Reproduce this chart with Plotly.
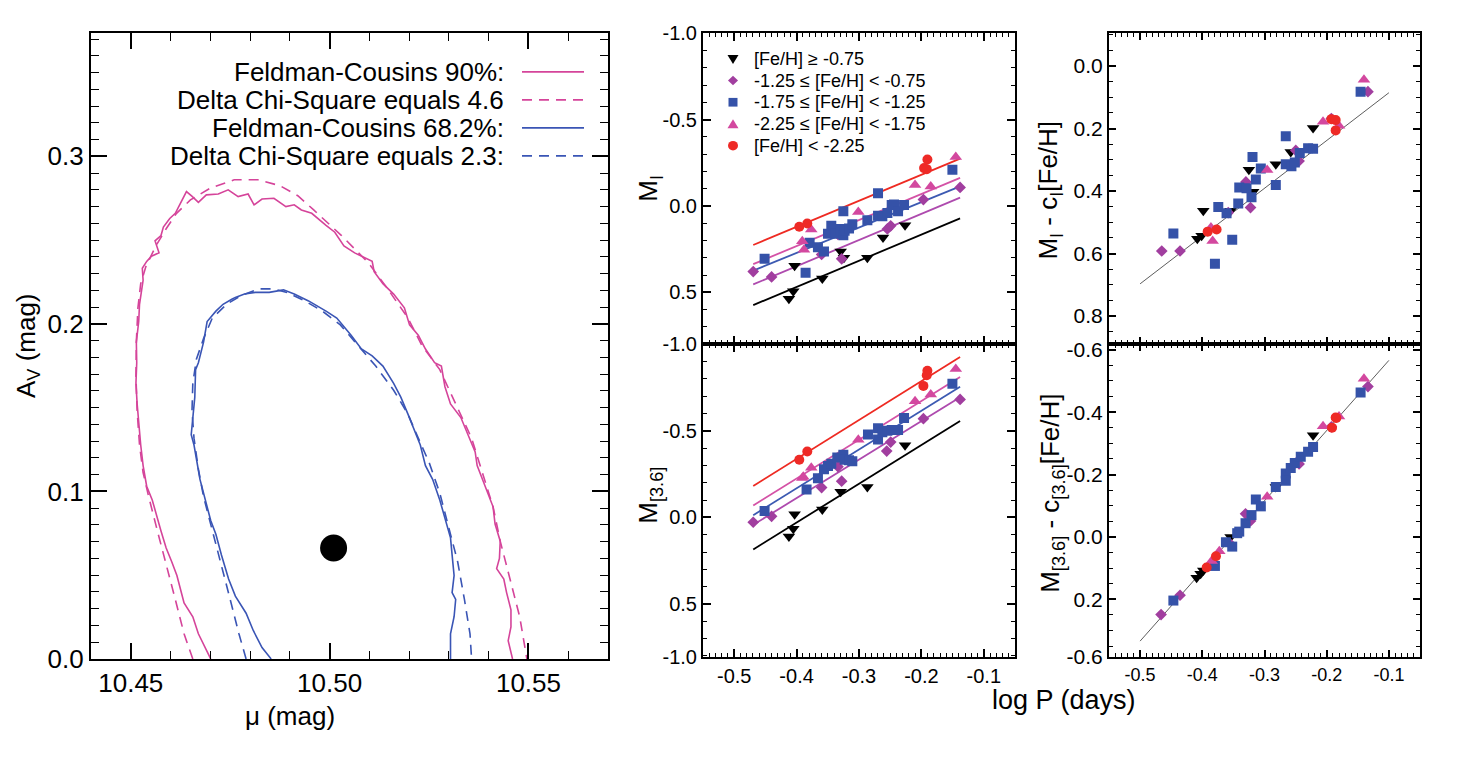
import plotly.graph_objects as go

W, H = 1458, 757
def px(x): return x / W
def py(y): return 1 - y / H

# ---------------- LEFT PANEL DATA (mu, A_V) ----------------
fc90_mu = [10.4701,10.4683,10.4670,10.4656,10.4634,10.4625,10.4616,10.4603,10.4589,10.4576,10.4563,10.4554,
           10.4540,10.4531,10.4525,10.4520,10.4516,10.4513,10.4515,10.4514,10.4520,10.4522,10.4531,10.4529,
           10.4540,10.4552,10.4571,10.4561,10.4576,10.4582,10.4598,10.4612,10.4625,10.4640,10.4655,10.4670,
           10.4690,10.4720,10.4745,10.4770,10.4795,10.4810,10.4830,10.4860,10.4890,10.4911,10.4929,10.4955,
           10.4991,10.5013,10.5036,10.5063,10.5107,10.5112,10.5134,10.5161,10.5188,10.5201,10.5223,10.5241,
           10.5264,10.5281,10.5290,10.5304,10.5330,10.5348,10.5366,10.5371,10.5384,10.5397,10.5411,10.5416,
           10.5429,10.5427,10.5420,10.5438,10.5445,10.5456,10.5456,10.5449,10.5460]
fc90_av = [0.0000,0.0088,0.0150,0.0252,0.0334,0.0416,0.0498,0.0580,0.0662,0.0764,0.0867,0.0949,
           0.1031,0.1154,0.1277,0.1400,0.1523,0.1645,0.1768,0.1891,0.2014,0.2117,0.2260,0.2332,
           0.2373,0.2404,0.2424,0.2496,0.2527,0.2578,0.2629,0.2660,0.2720,0.2790,0.2760,0.2725,
           0.2770,0.2775,0.2800,0.2760,0.2775,0.2710,0.2745,0.2750,0.2700,0.2711,0.2680,0.2660,
           0.2588,0.2547,0.2465,0.2424,0.2373,0.2311,0.2240,0.2178,0.2096,0.1994,0.1932,0.1850,
           0.1768,0.1748,0.1625,0.1522,0.1441,0.1338,0.1236,0.1154,0.1072,0.0990,0.0908,0.0805,
           0.0703,0.0600,0.0539,0.0477,0.0396,0.0293,0.0191,0.0109,0.0000]

chi46_mu = [10.4656,10.4634,10.4612,10.4589,10.4567,10.4545,10.4531,10.4522,10.4516,10.4513,10.4514,10.4518,
            10.4525,10.4538,10.4563,10.4589,10.4615,10.4650,10.4700,10.4760,10.4820,10.4875,10.4920,10.4960,
            10.5000,10.5030,10.5098,10.5143,10.5197,10.5232,10.5277,10.5322,10.5357,10.5384,10.5411,10.5429,
            10.5456,10.5478,10.5496]
chi46_av = [0.0000,0.0150,0.0355,0.0559,0.0764,0.0969,0.1113,0.1277,0.1482,0.1686,0.1891,0.2096,
            0.2240,0.2342,0.2465,0.2568,0.2660,0.2740,0.2810,0.2860,0.2860,0.2825,0.2765,0.2680,
            0.2590,0.2527,0.2363,0.2219,0.2035,0.1871,0.1727,0.1502,0.1318,0.1113,0.0908,0.0703,
            0.0457,0.0252,0.0000]

fc68_mu = [10.4853,10.4830,10.4808,10.4790,10.4763,10.4746,10.4728,10.4714,10.4701,10.4688,10.4674,10.4665,
           10.4659,10.4652,10.4656,10.4661,10.4663,10.4670,10.4683,10.4692,10.4714,10.4732,10.4754,10.4763,
           10.4786,10.4813,10.4848,10.4884,10.4911,10.4947,10.4991,10.5018,10.5054,10.5080,10.5107,10.5134,
           10.5161,10.5179,10.5197,10.5214,10.5228,10.5241,10.5259,10.5277,10.5290,10.5304,10.5308,10.5313,
           10.5308,10.5317,10.5313,10.5304,10.5304]
fc68_av = [0.0000,0.0068,0.0170,0.0273,0.0375,0.0477,0.0621,0.0744,0.0826,0.0949,0.1072,0.1195,
           0.1277,0.1338,0.1441,0.1563,0.1727,0.1768,0.1891,0.2014,0.2076,0.2117,0.2147,0.2158,
           0.2178,0.2188,0.2188,0.2203,0.2178,0.2137,0.2076,0.2035,0.1932,0.1850,0.1809,0.1748,
           0.1645,0.1563,0.1461,0.1359,0.1277,0.1154,0.1072,0.0949,0.0846,0.0723,0.0621,0.0498,
           0.0396,0.0355,0.0252,0.0150,0.0000]

chi23_mu = [10.4790,10.4772,10.4750,10.4728,10.4705,10.4683,10.4670,10.4659,10.4654,10.4656,10.4665,10.4683,
            10.4705,10.4741,10.4777,10.4821,10.4857,10.4893,10.4938,10.4982,10.5027,10.5072,10.5116,10.5161,
            10.5197,10.5223,10.5250,10.5277,10.5299,10.5322,10.5339,10.5353,10.5357]
chi23_av = [0.0000,0.0150,0.0355,0.0559,0.0764,0.0969,0.1133,0.1318,0.1482,0.1645,0.1789,0.1912,
            0.2035,0.2117,0.2168,0.2209,0.2209,0.2188,0.2137,0.2076,0.1994,0.1871,0.1748,0.1604,
            0.1461,0.1318,0.1174,0.0990,0.0785,0.0580,0.0355,0.0150,0.0000]

best_mu = [10.5010]
best_av = [0.0662]

legend_left_labels = ["Feldman-Cousins 90%:", "Delta Chi-Square equals 4.6",
                      "Feldman-Cousins 68.2%:", "Delta Chi-Square equals 2.3:"]

# ---------------- PL DATA ----------------
group_names = ["[Fe/H] ≥ -0.75", "-1.25 ≤ [Fe/H] &lt; -0.75", "-1.75 ≤ [Fe/H] &lt; -1.25",
               "-2.25 ≤ [Fe/H] &lt; -1.75", "[Fe/H] &lt; -2.25"]

# Panel: M_I vs log P
mi_x_k = [-0.4032,-0.4123,-0.4053,-0.3588,-0.3294,-0.3241,-0.2866,-0.2615,-0.2262]
mi_y_k = [0.346,0.537,0.494,0.420,0.263,0.300,0.300,0.183,0.111]
mi_x_d = [-0.4695,-0.4401,-0.3599,-0.3337,-0.3278,-0.2545,-0.2492,-0.1968,-0.1380]
mi_y_d = [0.380,0.411,0.281,0.165,0.306,0.133,0.115,-0.037,-0.107]
mi_x_s = [-0.4513,-0.3856,-0.3791,-0.3658,-0.3561,-0.3497,-0.3444,-0.3374,-0.3294,-0.3251,-0.3251,-0.3230,
          -0.3160,-0.3107,-0.2866,-0.2695,-0.2695,-0.2626,-0.2545,-0.2476,-0.2439,-0.2374,-0.2278,-0.1503]
mi_y_s = [0.306,0.387,0.213,0.239,0.263,0.161,0.115,0.161,0.133,0.031,0.170,0.143,
          0.130,0.106,0.083,-0.074,0.056,0.059,0.041,-0.006,-0.009,0.031,-0.006,-0.209]
mi_x_t = [-0.3909,-0.3882,-0.3765,-0.3011,-0.2102,-0.1850,-0.1449]
mi_y_t = [0.204,0.254,0.137,0.035,-0.122,-0.113,-0.283]
mi_x_c = [-0.3957,-0.3829,-0.1957,-0.1904,-0.1914]
mi_y_c = [0.120,0.102,-0.219,-0.269,-0.213]

# Panel: M_[3.6] vs log P
m36_x_k = [-0.4032,-0.4053,-0.4123,-0.3588,-0.3294,-0.2866,-0.2262]
m36_y_k = [-0.0185,0.065,0.111,-0.046,-0.148,-0.176,-0.417]
m36_x_d = [-0.4695,-0.4401,-0.3599,-0.3337,-0.3278,-0.2556,-0.2492,-0.1968,-0.1380]
m36_y_d = [0.028,-0.006,-0.172,-0.293,-0.209,-0.383,-0.435,-0.570,-0.681]
m36_x_s = [-0.4513,-0.3840,-0.3658,-0.3561,-0.3497,-0.3444,-0.3348,-0.3251,-0.3230,-0.3160,-0.3107,-0.2856,
           -0.2695,-0.2695,-0.2626,-0.2545,-0.2476,-0.2374,-0.2278,-0.1503]
m36_y_s = [-0.037,-0.161,-0.226,-0.278,-0.296,-0.309,-0.346,-0.361,-0.333,-0.330,-0.324,-0.478,
           -0.515,-0.450,-0.491,-0.500,-0.504,-0.504,-0.574,-0.772]
m36_x_t = [-0.3909,-0.3893,-0.3765,-0.3011,-0.2102,-0.1850,-0.1449]
m36_y_t = [-0.228,-0.235,-0.287,-0.448,-0.670,-0.709,-0.856]
m36_x_c = [-0.3957,-0.3829,-0.1968,-0.1904,-0.1914]
m36_y_c = [-0.333,-0.380,-0.759,-0.846,-0.820]

# Panel: M_I - c_I[Fe/H] vs log P
mic_x_k = [-0.3984,-0.4080,-0.4011,-0.3545,-0.3251,-0.3182,-0.2818,-0.2578,-0.2219]
mic_y_k = [0.463,0.553,0.543,0.463,0.332,0.402,0.314,0.275,0.198]
mic_x_d = [-0.4652,-0.4358,-0.3583,-0.3299,-0.3225,-0.2497,-0.2444,-0.1925,-0.1337]
mic_y_d = [0.592,0.592,0.469,0.371,0.453,0.270,0.304,0.168,0.082]
mic_x_s = [-0.4465,-0.3797,-0.3743,-0.3610,-0.3519,-0.3422,-0.3406,-0.3289,-0.3209,-0.3193,-0.3139,-0.3059,
           -0.2818,-0.2658,-0.2658,-0.2567,-0.2513,-0.2433,-0.2299,-0.2219,-0.1455]
mic_y_s = [0.536,0.633,0.451,0.471,0.556,0.440,0.389,0.391,0.420,0.291,0.363,0.328,
           0.381,0.225,0.314,0.321,0.309,0.278,0.263,0.265,0.082]
mic_x_t = [-0.3861,-0.3834,-0.2957,-0.2059,-0.1802,-0.1401]
mic_y_t = [0.517,0.560,0.333,0.178,0.191,0.044]
mic_x_c = [-0.3914,-0.3770,-0.1925,-0.1856,-0.1856]
mic_y_c = [0.530,0.523,0.170,0.173,0.206]

# Panel: M_[3.6] - c_[3.6][Fe/H] vs log P
m36c_x_k = [-0.4091,-0.4027,-0.3984,-0.3545,-0.3251,-0.2818,-0.2219]
m36c_y_k = [0.131,0.118,0.108,0.000,-0.074,-0.160,-0.326]
m36c_x_d = [-0.4663,-0.4358,-0.3556,-0.3305,-0.3225,-0.2497,-0.2444,-0.1925,-0.1337]
m36c_y_d = [0.249,0.187,0.021,-0.074,-0.051,-0.237,-0.234,-0.353,-0.482]
m36c_x_s = [-0.4465,-0.3797,-0.3620,-0.3519,-0.3439,-0.3406,-0.3305,-0.3209,-0.3139,-0.3059,-0.2818,-0.2658,
            -0.2658,-0.2578,-0.2513,-0.2417,-0.2299,-0.2219,-0.1455]
m36c_y_s = [0.204,0.093,0.017,0.031,-0.012,-0.017,-0.044,-0.070,-0.120,-0.098,-0.160,-0.203,
            -0.180,-0.221,-0.237,-0.257,-0.273,-0.288,-0.463]
m36c_x_t = [-0.3850,-0.3727,-0.2957,-0.2059,-0.1802,-0.1401]
m36c_y_t = [0.077,0.046,-0.129,-0.355,-0.386,-0.507]
m36c_x_c = [-0.3930,-0.3780,-0.1914,-0.1856,-0.1845]
m36c_y_c = [0.098,0.062,-0.350,-0.383,-0.381]

# Fit lines (end points)
fit_x = [-0.4695, -0.138]
mi_fit = {"k": [0.574, 0.072], "d": [0.454, -0.048], "s": [0.374, -0.113], "t": [0.337, -0.163], "c": [0.226, -0.274]}
m36_fit = {"k": [0.185, -0.556], "d": [0.043, -0.694], "s": [-0.013, -0.754], "t": [-0.069, -0.811], "c": [-0.181, -0.926]}
corr_fit_x = [-0.5, -0.1]
mic_fit = [0.697, 0.0855]
m36c_fit = [0.334, -0.566]

# tick labels
mu_tickvals = [10.45, 10.50, 10.55]; mu_ticktext = ["10.45", "10.50", "10.55"]
av_tickvals = [0.0, 0.1, 0.2, 0.3]; av_ticktext = ["0.0", "0.1", "0.2", "0.3"]
logp_tickvals = [-0.5, -0.4, -0.3, -0.2, -0.1]; logp_ticktext = ["-0.5", "-0.4", "-0.3", "-0.2", "-0.1"]
mi_tickvals = [-1.0, -0.5, 0.0, 0.5]; mi_ticktext = ["-1.0", "-0.5", "0.0", "0.5"]
m36_tickvals = [-1.0, -0.5, 0.0, 0.5, 0.805]; m36_ticktext = ["-1.0", "-0.5", "0.0", "0.5", "-1.0"]
mic_tickvals = [0.0, 0.2, 0.4, 0.6, 0.8]; mic_ticktext = ["0.0", "0.2", "0.4", "0.6", "0.8"]
m36c_tickvals = [-0.6, -0.4, -0.2, 0.0, 0.2, 0.384]; m36c_ticktext = ["-0.6", "-0.4", "-0.2", "0.0", "0.2", "-0.6"]

# ---------------- STYLE ----------------
FONT = "Liberation Sans, Arial, Helvetica, sans-serif"
C_MAG = "#D5449A"
C_BLU = "#3A55B5"
DASH = "10px,7px"
col = {"k": "#000000", "d": "#A13E9F", "s": "#3552A8", "t": "#D3489F", "c": "#EE2A26"}
linecol = {"k": "#000000", "d": "#AE4AAE", "s": "#3C5AB2", "t": "#D452A6", "c": "#EE2A22"}
sym = {"k": "triangle-down", "d": "diamond", "s": "square", "t": "triangle-up", "c": "circle"}
msz = {"k": 11, "d": 9, "s": 10, "t": 11, "c": 10}
keys = ["k", "d", "s", "t", "c"]

fig = go.Figure()

# left panel
fig.add_trace(go.Scatter(x=fc90_mu, y=fc90_av, mode="lines", line=dict(color=C_MAG, width=1.6), xaxis="x", yaxis="y", showlegend=False))
fig.add_trace(go.Scatter(x=chi46_mu, y=chi46_av, mode="lines", line=dict(color=C_MAG, width=1.6, dash=DASH), xaxis="x", yaxis="y", showlegend=False))
fig.add_trace(go.Scatter(x=fc68_mu, y=fc68_av, mode="lines", line=dict(color=C_BLU, width=1.6), xaxis="x", yaxis="y", showlegend=False))
fig.add_trace(go.Scatter(x=chi23_mu, y=chi23_av, mode="lines", line=dict(color=C_BLU, width=1.6, dash=DASH), xaxis="x", yaxis="y", showlegend=False))
fig.add_trace(go.Scatter(x=best_mu, y=best_av, mode="markers", marker=dict(color="black", size=27), xaxis="x", yaxis="y", showlegend=False))

panels = [
    ("x2", "y2", {"k": (mi_x_k, mi_y_k), "d": (mi_x_d, mi_y_d), "s": (mi_x_s, mi_y_s), "t": (mi_x_t, mi_y_t), "c": (mi_x_c, mi_y_c)}),
    ("x3", "y3", {"k": (m36_x_k, m36_y_k), "d": (m36_x_d, m36_y_d), "s": (m36_x_s, m36_y_s), "t": (m36_x_t, m36_y_t), "c": (m36_x_c, m36_y_c)}),
    ("x4", "y4", {"k": (mic_x_k, mic_y_k), "d": (mic_x_d, mic_y_d), "s": (mic_x_s, mic_y_s), "t": (mic_x_t, mic_y_t), "c": (mic_x_c, mic_y_c)}),
    ("x5", "y5", {"k": (m36c_x_k, m36c_y_k), "d": (m36c_x_d, m36c_y_d), "s": (m36c_x_s, m36c_y_s), "t": (m36c_x_t, m36c_y_t), "c": (m36c_x_c, m36c_y_c)}),
]

for k in keys:
    fig.add_trace(go.Scatter(x=fit_x, y=mi_fit[k], mode="lines", line=dict(color=linecol[k], width=1.8), xaxis="x2", yaxis="y2", showlegend=False))
    fig.add_trace(go.Scatter(x=fit_x, y=m36_fit[k], mode="lines", line=dict(color=linecol[k], width=1.8), xaxis="x3", yaxis="y3", showlegend=False))
fig.add_trace(go.Scatter(x=corr_fit_x, y=mic_fit, mode="lines", line=dict(color="#333333", width=0.8), xaxis="x4", yaxis="y4", showlegend=False))
fig.add_trace(go.Scatter(x=corr_fit_x, y=m36c_fit, mode="lines", line=dict(color="#333333", width=0.8), xaxis="x5", yaxis="y5", showlegend=False))

for xa, ya, data in panels:
    for i, k in enumerate(keys):
        xs, ys = data[k]
        fig.add_trace(go.Scatter(x=xs, y=ys, mode="markers", name=group_names[i],
                                 marker=dict(symbol=sym[k], color=col[k], size=msz[k], line=dict(width=0)),
                                 xaxis=xa, yaxis=ya, showlegend=False))

def axis(domain, rng, tickvals, ticktext, ticklen, minor_dtick, minor_len, tickfont, anchor, showlabels=True, lw=2):
    return dict(domain=domain, range=rng, anchor=anchor, tickmode="array", tickvals=tickvals, ticktext=ticktext,
                showticklabels=showlabels, ticks="inside", ticklen=ticklen, tickwidth=1.6, tickcolor="black",
                showline=True, linecolor="black", linewidth=lw, mirror="ticks", showgrid=False, zeroline=False,
                tickfont=dict(family=FONT, size=tickfont, color="black"),
                minor=dict(ticks="inside", ticklen=minor_len, tickwidth=1.2, tickcolor="black", dtick=minor_dtick,
                           tick0=0, showgrid=False))

dx_left = [px(91), px(608)]
dy_left = [py(671), py(23)]
dx_mid = [px(703), px(1015)]
dx_right = [px(1109), px(1420)]
dy_top = [py(345), py(23)]
dy_bot = [py(669), py(345)]

fig.update_layout(
    width=W, height=H, margin=dict(l=0, r=0, t=0, b=0),
    paper_bgcolor="white", plot_bgcolor="white",
    font=dict(family=FONT, color="black"),
    xaxis=axis(dx_left, [10.44, 10.57], mu_tickvals, mu_ticktext, 16, 0.01, 8, 26, "y", lw=2.2),
    yaxis=axis(dy_left, [0.0, 0.3735], av_tickvals, av_ticktext, 16, 0.01, 8, 26, "x", lw=2.2),
    xaxis2=axis(dx_mid, [-0.55, -0.05], logp_tickvals, logp_ticktext, 8, 0.01, 4, 20, "y2", showlabels=False),
    yaxis2=axis(dy_top, [0.8, -1.0], mi_tickvals, mi_ticktext, 8, 0.1, 4, 20, "x2"),
    xaxis3=axis(dx_mid, [-0.55, -0.05], logp_tickvals, logp_ticktext, 8, 0.01, 4, 20, "y3"),
    yaxis3=axis(dy_bot, [0.806, -1.0], m36_tickvals, m36_ticktext, 8, 0.1, 4, 20, "x3"),
    xaxis4=axis(dx_right, [-0.55, -0.05], logp_tickvals, logp_ticktext, 7, 0.01, 4, 18, "y4", showlabels=False),
    yaxis4=axis(dy_top, [0.89, -0.105], mic_tickvals, mic_ticktext, 7, 0.05, 4, 21, "x4"),
    xaxis5=axis(dx_right, [-0.55, -0.05], logp_tickvals, logp_ticktext, 7, 0.01, 4, 18, "y5"),
    yaxis5=axis(dy_bot, [0.385, -0.618], m36c_tickvals, m36c_ticktext, 7, 0.05, 4, 21, "x5"),
    showlegend=False,
)

ann = []
def A(text, x, y, size, angle=0, xanchor="center"):
    ann.append(dict(text=text, x=px(x), y=py(y), xref="paper", yref="paper", showarrow=False,
                    textangle=angle, xanchor=xanchor, yanchor="middle",
                    font=dict(family=FONT, size=size, color="black")))

A("A<sub>V</sub> (mag)", 27, 347, 26, -90)
A("μ (mag)", 290, 730, 26)
A("M<sub>I</sub>", 650, 184, 26, -90)
A("M<sub>[3.6]</sub>", 650, 502, 26, -90)
A("M<sub>I</sub> - c<sub>I</sub>[Fe/H]", 1050, 186, 26, -90)
A("M<sub>[3.6]</sub> - c<sub>[3.6]</sub>[Fe/H]", 1052, 500, 26, -90)
A("log P (days)", 1064, 714, 27)

shapes = []
# left legend: right-aligned text with line samples
rows_y = [63, 92, 121, 150]
styles = [(C_MAG, "solid"), (C_MAG, DASH), (C_BLU, "solid"), (C_BLU, DASH)]
for lab, yy, (c, d) in zip(legend_left_labels, rows_y, styles):
    A(lab, 506, yy, 26, 0, "right")
    shapes.append(dict(type="line", xref="paper", yref="paper", x0=px(522), x1=px(584), y0=py(yy), y1=py(yy),
                       line=dict(color=c, width=1.6, dash=d)))

# middle-panel key: glyphs + labels
key_rows = [50, 72, 94.5, 117, 139.5]
gx = 733
def path(pts):
    return "M " + " L ".join(f"{px(a):.6f},{py(b):.6f}" for a, b in pts) + " Z"
for k, yy, name in zip(keys, key_rows, group_names):
    c = col[k]
    if k == "k":
        shapes.append(dict(type="path", xref="paper", yref="paper", path=path([(gx-5.5, yy-4.5), (gx+5.5, yy-4.5), (gx, yy+5)]),
                           fillcolor=c, line=dict(width=0)))
    elif k == "d":
        shapes.append(dict(type="path", xref="paper", yref="paper", path=path([(gx, yy-5), (gx+5, yy), (gx, yy+5), (gx-5, yy)]),
                           fillcolor=c, line=dict(width=0)))
    elif k == "s":
        shapes.append(dict(type="rect", xref="paper", yref="paper", x0=px(gx-4.5), x1=px(gx+4.5), y0=py(yy+4.5), y1=py(yy-4.5),
                           fillcolor=c, line=dict(width=0)))
    elif k == "t":
        shapes.append(dict(type="path", xref="paper", yref="paper", path=path([(gx-5.5, yy+4.5), (gx+5.5, yy+4.5), (gx, yy-5)]),
                           fillcolor=c, line=dict(width=0)))
    else:
        shapes.append(dict(type="circle", xref="paper", yref="paper", x0=px(gx-5), x1=px(gx+5), y0=py(yy+5), y1=py(yy-5),
                           fillcolor=c, line=dict(width=0)))
    A(name, 752, yy, 18, 0, "left")

fig.update_layout(annotations=ann, shapes=shapes)
fig.write_html("out.html")
